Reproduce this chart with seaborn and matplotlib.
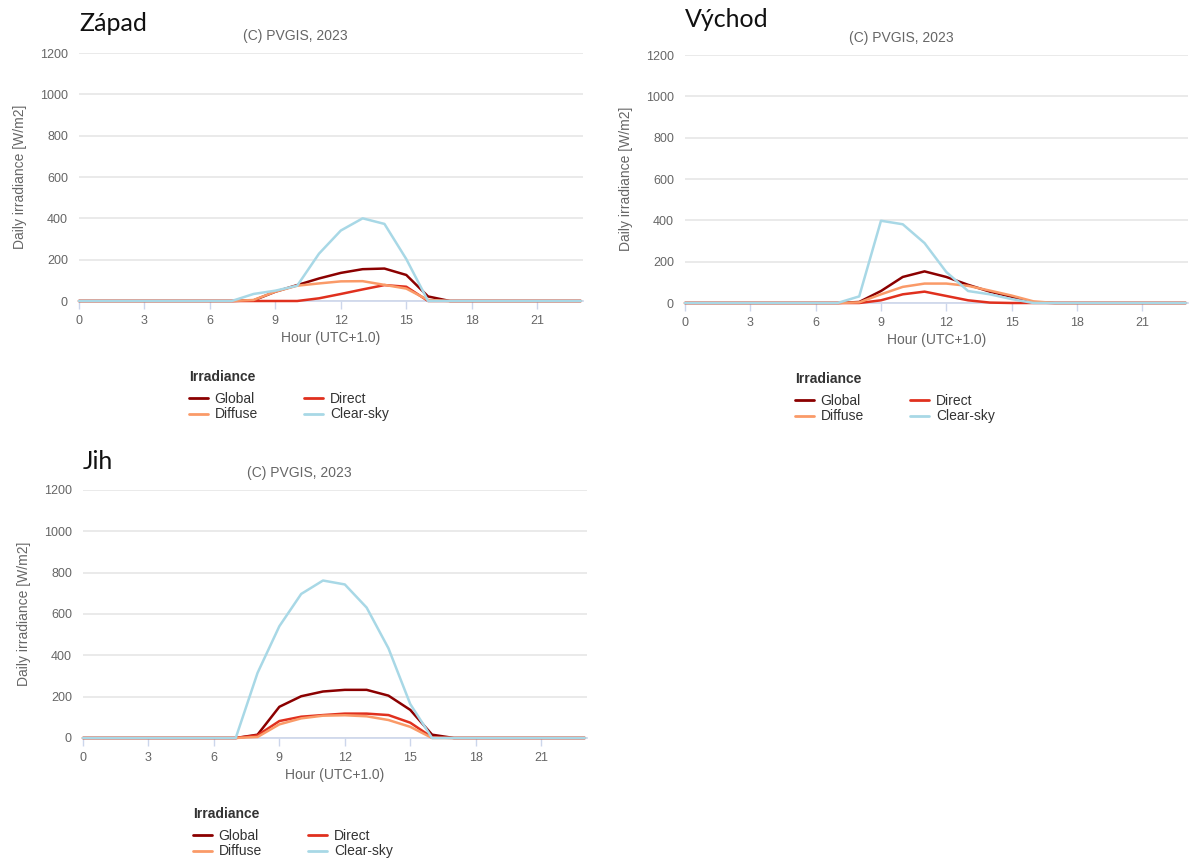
import pandas as pd
import matplotlib.pyplot as plt
import matplotlib.colors as mcolors
import seaborn as sns

# ---------------------------------------------------------
# Data: hourly average irradiance (W/m2), PVGIS 2023
# ---------------------------------------------------------
HOURS = list(range(24))
SERIES = ["Global", "Direct", "Diffuse", "Clear-sky"]
COLORS = {"Global": "#8b0000", "Direct": "#e0301e",
          "Diffuse": "#fa9a68", "Clear-sky": "#a8d8e6"}

zapad_global = [0] * 8 + [3, 45, 77, 109, 136, 154, 157, 126, 22, 0] + [0] * 6
zapad_direct = [0] * 11 + [13, 34, 56, 77, 69, 0, 0] + [0] * 6
zapad_diffuse = [0] * 8 + [5, 45, 74, 85, 95, 96, 78, 60, 5, 0] + [0] * 6
zapad_clear = [0] * 8 + [34, 50, 74, 229, 341, 400, 373, 203, 0, 0] + [0] * 6

vychod_global = [0] * 8 + [5, 58, 126, 153, 126, 88, 55, 30, 3, 0] + [0] * 6
vychod_direct = [0] * 8 + [0, 13, 42, 55, 34, 13, 2, 0, 0, 0] + [0] * 6
vychod_diffuse = [0] * 8 + [3, 42, 78, 94, 94, 83, 60, 36, 8, 0] + [0] * 6
vychod_clear = [0] * 8 + [32, 398, 381, 290, 150, 58, 42, 19, 0, 0] + [0] * 6

jih_global = [0] * 8 + [16, 151, 202, 225, 233, 233, 205, 136, 16, 0] + [0] * 6
jih_direct = [0] * 8 + [13, 82, 103, 111, 118, 118, 111, 74, 3, 0] + [0] * 6
jih_diffuse = [0] * 8 + [5, 66, 95, 108, 110, 105, 87, 54, 0, 0] + [0] * 6
jih_clear = [0] * 8 + [315, 541, 697, 762, 743, 631, 434, 164, 0, 0] + [0] * 6

PANELS = [
    ("Západ", [zapad_global, zapad_direct, zapad_diffuse, zapad_clear]),
    ("Východ", [vychod_global, vychod_direct, vychod_diffuse, vychod_clear]),
    ("Jih", [jih_global, jih_direct, jih_diffuse, jih_clear]),
]

# panel boxes in pixels: left, top, right, bottom (plot area)
BOXES = [(79, 53, 583, 301), (685, 55, 1188, 303), (83, 490, 587, 738)]
TITLE_Y = [31, 27, 469]

W, H = 1190, 859

sns.set_theme(style="white")
plt.rcParams["font.family"] = ["Liberation Sans", "DejaVu Sans"]

fig = plt.figure(figsize=(W / 100, H / 100), dpi=100)
fig.patch.set_facecolor("white")

GRAY = "#666666"
AXIS = "#ccd6eb"
# draw order like the original: clear-sky on top
ZORDER = {mcolors.to_hex(COLORS[s]): 2 + i for i, s in enumerate(SERIES)}

for (name, values), (l, t, r, b), ty in zip(PANELS, BOXES, TITLE_Y):
    ax = fig.add_axes([l / W, 1 - b / H, (r - l) / W, (b - t) / H])
    pw, ph = r - l, b - t

    df = pd.DataFrame({
        "hour": HOURS * len(SERIES),
        "value": sum(values, []),
        "series": [s for s in SERIES for _ in HOURS],
    })
    sns.lineplot(data=df, x="hour", y="value", hue="series", hue_order=SERIES,
                 palette=COLORS, linewidth=1.8, ax=ax, legend=True)
    for line in ax.lines:
        line.set_clip_on(False)
        line.set_zorder(ZORDER.get(mcolors.to_hex(line.get_color()), 2))

    ax.set_xlim(0, 23.1)
    ax.set_ylim(0, 1200)
    ax.set_xticks(range(0, 22, 3))
    ax.set_yticks(range(0, 1201, 200))
    ax.grid(axis="y", color="#e6e6e6", linewidth=1.2)
    ax.grid(axis="x", visible=False)
    for side in ["top", "right", "left"]:
        ax.spines[side].set_visible(False)
    ax.spines["bottom"].set_color(AXIS)
    ax.spines["bottom"].set_linewidth(1.2)
    ax.tick_params(axis="x", colors=AXIS, length=6, width=1, labelcolor=GRAY,
                   labelsize=9, pad=4, bottom=True)
    ax.tick_params(axis="y", length=0, labelcolor=GRAY, labelsize=9, pad=8)

    ax.set_xlabel("Hour (UTC+1.0)", color=GRAY, fontsize=10)
    ax.xaxis.set_label_coords(0.5, -37 / ph)
    ax.xaxis.label.set_va("center")
    ax.set_ylabel("Daily irradiance [W/m2]", color=GRAY, fontsize=10)
    ax.yaxis.set_label_coords(-59 / pw, 0.5)
    ax.yaxis.label.set_va("center")

    ax.text(216 / pw, 1 + 17 / ph, "(C) PVGIS, 2023", transform=ax.transAxes,
            ha="center", va="center", color=GRAY, fontsize=10)
    fig.text(l / W, 1 - ty / H, name, ha="left", va="baseline",
             fontsize=18, family="Lato", color="#111111")

    # legend: bold heading plus two columns of entries
    ax.text(110 / pw, -76 / ph, "Irradiance", transform=ax.transAxes,
            ha="left", va="center", fontsize=10, fontweight="bold",
            color="#333333")
    handles, labels = ax.get_legend_handles_labels()
    lookup = dict(zip(labels, handles))
    order = ["Global", "Diffuse", "Direct", "Clear-sky"]
    ax.legend([lookup[k] for k in order], order, ncol=2,
              loc="upper left", bbox_to_anchor=(110 / pw, -91 / ph),
              frameon=False, borderpad=0, borderaxespad=0, fontsize=10,
              handlelength=1.35, handletextpad=0.5,
              columnspacing=3.35, labelspacing=0.1)
    leg = ax.get_legend()
    for txt in leg.get_texts():
        txt.set_color("#333333")
    for h in leg.legend_handles:
        h.set_linewidth(2)

fig.savefig("out.png", dpi=100, facecolor="white")
